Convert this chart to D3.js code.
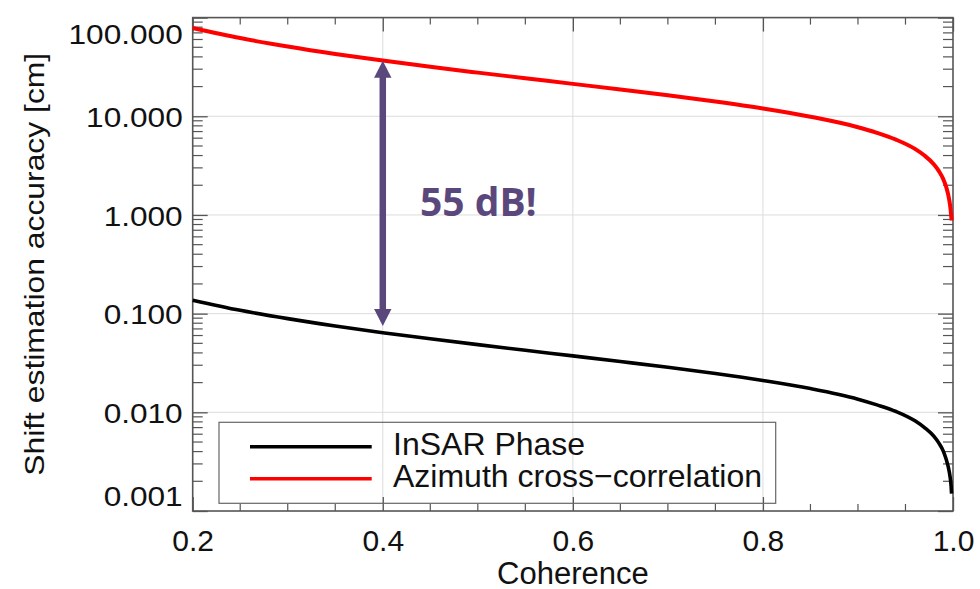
<!DOCTYPE html>
<html>
<head>
<meta charset="utf-8">
<script src="https://cdn.jsdelivr.net/npm/d3@7"></script>
<style>
  body { margin: 0; background: #fff; }
  svg { display: block; }
  text { font-family: "Liberation Sans", Arial, Helvetica, sans-serif; fill: #111; }
</style>
</head>
<body>
<svg width="980" height="589"></svg>
<script>
// coherence samples and the two accuracy curves (cm)
var coherence = [0.2, 0.25, 0.3, 0.35, 0.4, 0.45, 0.5, 0.55, 0.6, 0.65, 0.7, 0.75, 0.8,
  0.85, 0.9, 0.92, 0.94, 0.96, 0.97, 0.98, 0.985, 0.99, 0.993, 0.995, 0.997, 0.998, 0.9985]
var insarPhase = [0.137, 0.108, 0.089, 0.075, 0.064, 0.0556, 0.0485, 0.0425, 0.0373, 0.0327,
  0.0286, 0.0247, 0.021, 0.0174, 0.0136, 0.0119, 0.0102, 0.0082, 0.0070, 0.0057, 0.0049,
  0.0040, 0.0033, 0.0028, 0.0022, 0.0018, 0.0015]
var azimuthXcorr = [78.4, 62.0, 50.9, 42.8, 36.7, 31.7, 27.7, 24.3, 21.3, 18.7, 16.3, 14.1,
  12.0, 9.9, 7.75, 6.8, 5.8, 4.67, 4.0, 3.25, 2.80, 2.28, 1.90, 1.60, 1.24, 1.01, 0.88]

var xTicks = [0.2, 0.4, 0.6, 0.8, 1.0]
var yTicks = [100, 10, 1, 0.1, 0.01, 0.001]
var seriesNames = ['InSAR Phase', 'Azimuth cross\u2212correlation']

// annotation arrow at coherence 0.4
var arrowX = 0.4
var arrowTop = 36.6
var arrowBottom = 0.075
var arrowLabel = '55 dB!'

var svg = d3.select('svg')

// note: "top" is taken by window.top, so use plot* names
var plotL = 192.7, plotR = 953, plotT = 17.6, plotB = 511

var x = d3.scaleLinear().domain([0.2, 1.0]).range([plotL, plotR])
var y = d3.scaleLog().domain([0.001, 100]).range([plotB, plotT])

// minor ticks
var xMinor = d3.range(0.25, 1.0, 0.05).filter(function (d) {
  return Math.abs(d * 5 - Math.round(d * 5)) > 1e-6
})
var yMinor = []
d3.range(-3, 2).forEach(function (e) {
  d3.range(2, 10).forEach(function (k) { yMinor.push(k * Math.pow(10, e)) })
})

// gridlines
var grid = svg.append('g').attr('stroke', '#dcdcdc').attr('stroke-width', 1)
grid.selectAll('.gx')
    .data(xTicks.slice(1, -1))
    .enter()
    .append('line')
    .attr('x1', function (d) { return x(d) })
    .attr('x2', function (d) { return x(d) })
    .attr('y1', plotT)
    .attr('y2', plotB)
grid.selectAll('.gy')
    .data(yTicks.slice(1, -1))
    .enter()
    .append('line')
    .attr('x1', plotL)
    .attr('x2', plotR)
    .attr('y1', function (d) { return y(d) })
    .attr('y2', function (d) { return y(d) })

// axes, ticks pointing inward
var axisColor = '#555'
function styleAxis (g) {
  g.select('.domain').remove()
  g.selectAll('line').attr('stroke', axisColor).attr('stroke-width', 1.3)
  g.selectAll('text').style('font-size', '30px').attr('fill', '#111')
}

svg.append('g')
    .attr('transform', 'translate(0,' + plotB + ')')
    .call(d3.axisBottom(x).tickValues(xTicks).tickFormat(d3.format('.1f')).tickSize(-14).tickPadding(19))
    .call(styleAxis)

svg.append('g')
    .attr('transform', 'translate(0,' + plotT + ')')
    .call(d3.axisTop(x).tickValues(xTicks).tickFormat('').tickSize(-14))
    .call(styleAxis)

var yAxisG = svg.append('g')
    .attr('transform', 'translate(' + plotL + ',0)')
    .call(d3.axisLeft(y).tickValues(yTicks).tickFormat(d3.format('.3f')).tickSize(-15).tickPadding(10))
    .call(styleAxis)

yAxisG.selectAll('text')
    .style('font-size', '27px')
    .attr('dy', function (d) {
      if (d === 100) return '0.95em'
      if (d === 0.001) return '-0.2em'
      return '0.38em'
    })
    .each(function () {
      var len = this.getComputedTextLength()
      d3.select(this).attr('textLength', len * 1.17).attr('lengthAdjust', 'spacingAndGlyphs')
    })

svg.append('g')
    .attr('transform', 'translate(' + plotR + ',0)')
    .call(d3.axisRight(y).tickValues(yTicks).tickFormat('').tickSize(-15))
    .call(styleAxis)

// minor ticks on all four sides
var minor = svg.append('g').attr('stroke', axisColor).attr('stroke-width', 1.2)
minor.selectAll('.mxb')
    .data(xMinor)
    .enter()
    .append('line')
    .attr('x1', function (d) { return x(d) })
    .attr('x2', function (d) { return x(d) })
    .attr('y1', plotB)
    .attr('y2', plotB - 7)
minor.selectAll('.mxt')
    .data(xMinor)
    .enter()
    .append('line')
    .attr('x1', function (d) { return x(d) })
    .attr('x2', function (d) { return x(d) })
    .attr('y1', plotT)
    .attr('y2', plotT + 7)
minor.selectAll('.myl')
    .data(yMinor)
    .enter()
    .append('line')
    .attr('x1', plotL)
    .attr('x2', plotL + 10)
    .attr('y1', function (d) { return y(d) })
    .attr('y2', function (d) { return y(d) })
minor.selectAll('.myr')
    .data(yMinor)
    .enter()
    .append('line')
    .attr('x1', plotR)
    .attr('x2', plotR - 10)
    .attr('y1', function (d) { return y(d) })
    .attr('y2', function (d) { return y(d) })

// frame
svg.append('rect')
    .attr('x', plotL)
    .attr('y', plotT)
    .attr('width', plotR - plotL)
    .attr('height', plotB - plotT)
    .attr('fill', 'none')
    .attr('stroke', axisColor)
    .attr('stroke-width', 1.6)

// curves
var line = d3.line()
    .x(function (d) { return x(d[0]) })
    .y(function (d) { return y(d[1]) })
    .curve(d3.curveMonotoneX)

var series = [
  { name: seriesNames[0], values: insarPhase, color: '#000', width: 3.6 },
  { name: seriesNames[1], values: azimuthXcorr, color: '#ff0000', width: 4 }
]

svg.selectAll('.curve')
    .data(series)
    .enter()
    .append('path')
    .attr('class', 'curve')
    .attr('fill', 'none')
    .attr('stroke', function (d) { return d.color })
    .attr('stroke-width', function (d) { return d.width })
    .attr('d', function (d) {
      return line(coherence.map(function (c, i) { return [c, d.values[i]] }))
    })

// axis titles
svg.append('text')
    .attr('x', (plotL + plotR) / 2)
    .attr('y', 584)
    .attr('text-anchor', 'middle')
    .style('font-size', '31px')
    .text('Coherence')

svg.append('text')
    .attr('transform', 'translate(44,' + ((plotT + plotB) / 2) + ') rotate(-90)')
    .attr('text-anchor', 'middle')
    .attr('textLength', 423)
    .attr('lengthAdjust', 'spacingAndGlyphs')
    .style('font-size', '28px')
    .text('Shift estimation accuracy [cm]')

// legend
var legend = svg.append('g')
legend.append('rect')
    .attr('x', 219)
    .attr('y', 422.3)
    .attr('width', 556.7)
    .attr('height', 81)
    .attr('fill', 'none')
    .attr('stroke', '#666')
    .attr('stroke-width', 1.2)

var items = legend.selectAll('.item')
    .data(series)
    .enter()
    .append('g')
    .attr('transform', function (d, i) { return 'translate(0,' + (446.7 + i * 32) + ')' })
items.append('line')
    .attr('x1', 250)
    .attr('x2', 371.7)
    .attr('stroke', function (d) { return d.color })
    .attr('stroke-width', 3.6)
items.append('text')
    .attr('x', 393)
    .attr('y', 8.5)
    .style('font-size', '32px')
    .text(function (d) { return d.name })

// double arrow annotation
var purple = '#5a487d'
var ax = x(arrowX)
var yTop = y(arrowTop)
var yBot = y(arrowBottom)
var headLen = 17, headHalf = 8.7
svg.append('line')
    .attr('x1', ax)
    .attr('x2', ax)
    .attr('y1', yTop + headLen - 1)
    .attr('y2', yBot - headLen + 1)
    .attr('stroke', purple)
    .attr('stroke-width', 6.5)
svg.append('path')
    .attr('fill', purple)
    .attr('d', 'M' + ax + ',' + yTop + 'L' + (ax + headHalf) + ',' + (yTop + headLen) +
      'L' + (ax - headHalf) + ',' + (yTop + headLen) + 'Z')
svg.append('path')
    .attr('fill', purple)
    .attr('d', 'M' + ax + ',' + yBot + 'L' + (ax + headHalf) + ',' + (yBot - headLen) +
      'L' + (ax - headHalf) + ',' + (yBot - headLen) + 'Z')

svg.append('text')
    .attr('x', 420)
    .attr('y', 216)
    .style('font-family', '"Open Sans", "Noto Sans", sans-serif')
    .style('font-weight', 'bold')
    .style('font-size', '39px')
    .style('fill', purple)
    .text(arrowLabel)
</script>
</body>
</html>
